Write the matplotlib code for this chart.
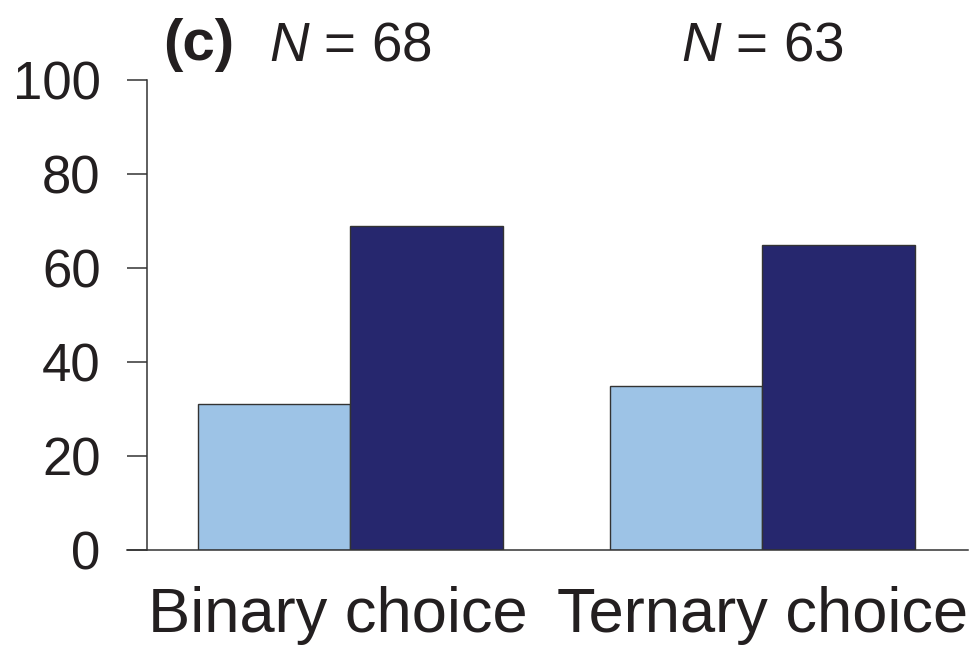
import matplotlib

matplotlib.use("Agg")

import matplotlib.pyplot as plt
import matplotlib.transforms as mtransforms
import numpy as np

plt.rcParams["font.family"] = ["Liberation Sans", "DejaVu Sans"]
plt.rcParams["mathtext.fontset"] = "custom"
plt.rcParams["mathtext.rm"] = "Liberation Sans"
plt.rcParams["mathtext.it"] = "Liberation Sans:italic"

categories = ["Binary choice", "Ternary choice"]
group_n = [68, 63]
light_values = [31, 35]
dark_values = [69, 65]
y_ticks = [0, 20, 40, 60, 80, 100]

light_color = "#9dc3e6"
dark_color = "#26276e"
edge_color = "#333333"
text_color = "#231f20"

fig = plt.figure(figsize=(9.75, 6.48), dpi=100)
ax = fig.add_axes([0.1508, 0.1512, 0.8422, 0.7253])

x = np.arange(len(categories))
width = 0.37
ax.bar(x - width / 2, light_values, width, color=light_color,
       edgecolor=edge_color, linewidth=1.0, zorder=2)
ax.bar(x + width / 2, dark_values, width, color=dark_color,
       edgecolor=edge_color, linewidth=1.0, zorder=2)

ax.set_xlim(-0.493, 1.5)
ax.set_ylim(0, 100)
ax.set_yticks(y_ticks)
ax.set_xticks(x)
ax.set_xticklabels(categories)

for side in ("top", "right", "bottom"):
    ax.spines[side].set_visible(False)
ax.spines["left"].set_linewidth(1.1)
ax.spines["left"].set_color("#333333")

# baseline runs from the tick ends across the whole panel
ax.axhline(0, xmin=-0.0244, xmax=1.0, color="#333333", linewidth=1.1,
           clip_on=False, zorder=3)

ax.tick_params(axis="y", length=14.4, width=1.1, color="#333333",
               pad=19, labelsize=38, labelcolor=text_color)
ax.tick_params(axis="x", length=0, pad=26, labelsize=45.5,
               labelcolor=text_color)

# first category label sits slightly left of its bar pair in the original
first = ax.get_xticklabels()[0]
first.set_transform(first.get_transform()
                    + mtransforms.ScaledTranslation(-0.12, 0, fig.dpi_scale_trans))

ax.text(0.0195, 1.0426, "(c)", transform=ax.transAxes, fontsize=42,
        fontweight="bold", va="baseline", ha="left", color=text_color)
trans = mtransforms.blended_transform_factory(ax.transData, ax.transAxes)
for xi, n in zip(x, group_n):
    ax.text(xi, 1.0426, rf"$\mathit{{N}}$ = {n}", transform=trans,
            fontsize=39.5, va="baseline", ha="center", color=text_color)

fig.savefig("out.png", dpi=100)
plt.close(fig)
